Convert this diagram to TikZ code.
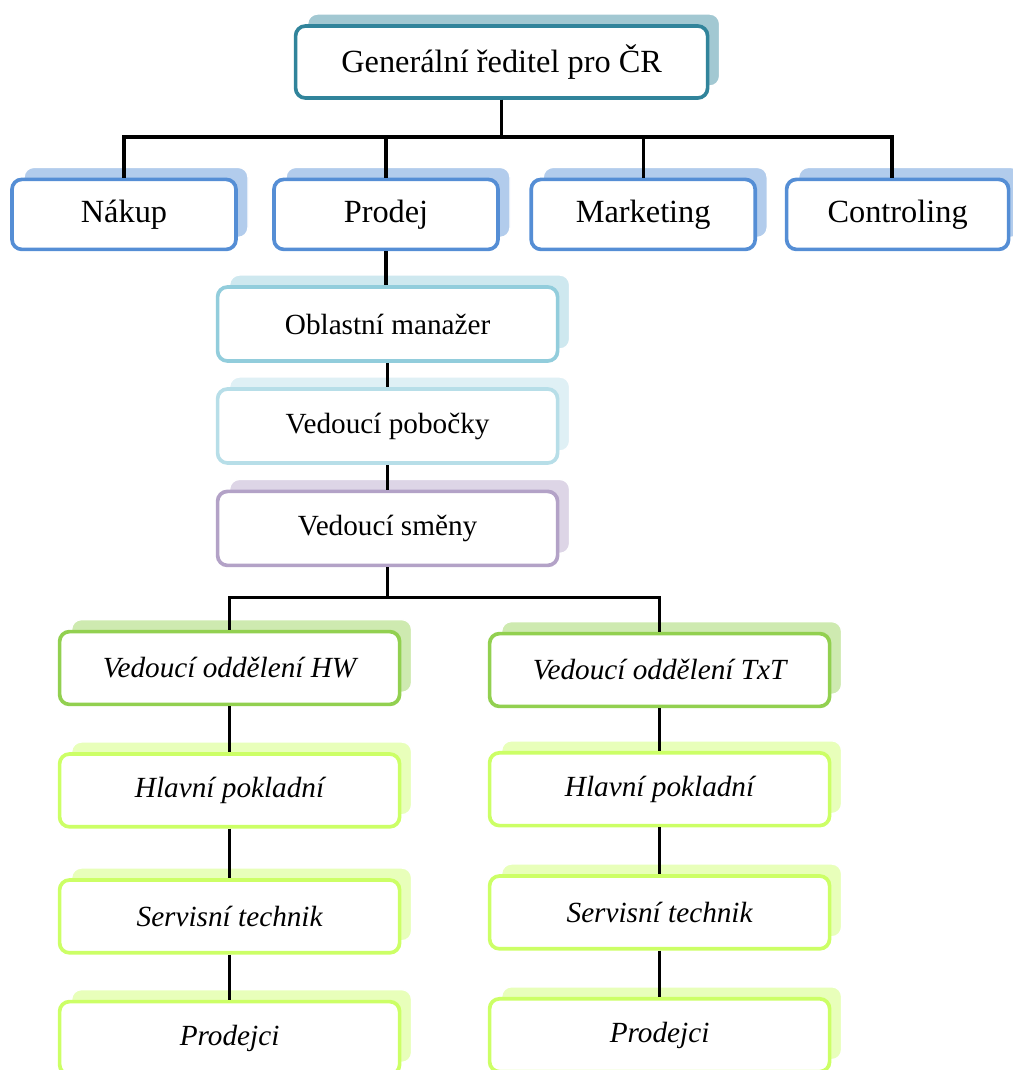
\documentclass[tikz,border=0pt]{standalone}
\usepackage{fontspec}
\setmainfont{Liberation Serif}
\usepackage{xcolor}
\usepackage{tikz}
\usetikzlibrary{shadows, positioning}
\definecolor{tyrkys}{HTML}{31849B}
\definecolor{modra}{HTML}{558ED5}
\definecolor{svetlemodra}{HTML}{92CDDC}
\definecolor{blankytna}{HTML}{B7DEE8}
\definecolor{levandule}{HTML}{B3A2C7}
\definecolor{zelena}{HTML}{92D050}
\definecolor{limetka}{HTML}{CCFF66}
\newcommand{\velke}{\fontsize{23}{27}\selectfont}
\newcommand{\mensi}{\fontsize{20.8}{24}\selectfont}
\tikzset{
  krabice/.style={draw=#1, fill=white, line width=2.6pt, rounded corners=7pt, align=center,
              drop shadow={shadow xshift=0.3cm, shadow yshift=0.3cm, fill=#1!45, draw=white,
              line width=1pt, opacity=1}},
  reditel/.style={krabice=tyrkys, minimum width=10.3cm, minimum height=1.8cm, font=\velke},
  usek/.style={krabice=modra, minimum width=5.6cm, minimum height=1.75cm, font=\velke},
  ved/.style={krabice=#1, minimum width=8.5cm, minimum height=1.85cm, font=\mensi},
  odd/.style={krabice=#1, minimum width=8.5cm, minimum height=1.82cm, font=\mensi\itshape},
  spoj/.style={draw=black, line width=2.2pt},
}

\begin{document}
\begin{tikzpicture}
  \useasboundingbox (0,0) rectangle (25.3,-26.75);
  % vedeni firmy
  \node[reditel] (gr) at (12.54,-1.55) {Generální ředitel pro ČR};
  \node[usek] (nakup) at (3.1,-5.36) {Nákup};
  \node[usek] (prodej) at (9.65,-5.36) {Prodej};
  \node[usek] (marketing) at (16.08,-5.36) {Marketing};
  \node[usek, minimum width=5.55cm] (controling) at (22.44,-5.36) {Controling};
  \foreach \n in {nakup,prodej,marketing}
    \draw[spoj] (gr.south) -- ++(0,-0.93) -| (\n.north);
  \draw[spoj] (gr.south) -- ++(0,-0.93) -| ([xshift=-0.14cm]controling.north);
  % prodejni linie
  \node[ved=svetlemodra] (oblast) at (9.69,-8.1) {Oblastní manažer};
  \node[ved=blankytna] (pobocka) at (9.69,-10.65) {Vedoucí pobočky};
  \node[ved=levandule] (smena) at (9.69,-13.21) {Vedoucí směny};
  \draw[spoj] (prodej.south) -- (prodej.south |- oblast.north);
  \draw[spoj] (oblast) -- (pobocka); \draw[spoj] (pobocka) -- (smena);
  % oddeleni HW
  \node[odd=zelena] (hw) at (5.74,-16.7) {Vedoucí oddělení HW};
  \node[odd=limetka] (hp1) at (5.74,-19.76) {Hlavní pokladní};
  \node[odd=limetka] (st1) at (5.74,-22.91) {Servisní technik};
  \node[odd=limetka] (pr1) at (5.74,-25.95) {Prodejci};
  % oddeleni TxT
  \node[odd=zelena] (txt) at (16.49,-16.75) {Vedoucí oddělení TxT};
  \node[odd=limetka] (hp2) at (16.49,-19.73) {Hlavní pokladní};
  \node[odd=limetka] (st2) at (16.49,-22.81) {Servisní technik};
  \node[odd=limetka] (pr2) at (16.49,-25.88) {Prodejci};
  \foreach \n in {hw,txt}
    \draw[spoj] (smena.south) -- ++(0,-0.76) -| (\n.north);
  \draw[spoj] (hw) -- (hp1); \draw[spoj] (hp1) -- (st1); \draw[spoj] (st1) -- (pr1);
  \draw[spoj] (txt) -- (hp2); \draw[spoj] (hp2) -- (st2); \draw[spoj] (st2) -- (pr2);
\end{tikzpicture}
\end{document}
